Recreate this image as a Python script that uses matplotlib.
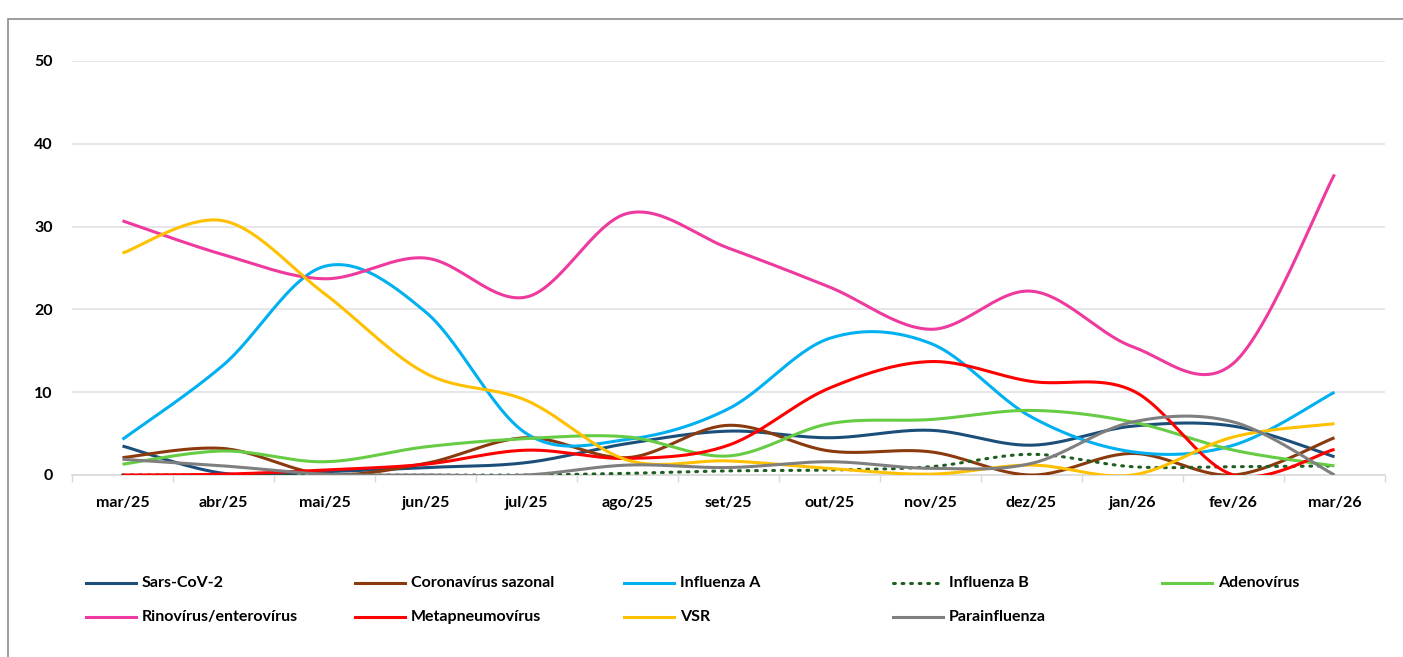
import numpy as np
import matplotlib.pyplot as plt
from matplotlib.lines import Line2D
from matplotlib.patches import Rectangle

####################################################################################################
meses = ['mar/25', 'abr/25', 'mai/25', 'jun/25', 'jul/25', 'ago/25', 'set/25',
         'out/25', 'nov/25', 'dez/25', 'jan/26', 'fev/26', 'mar/26']

sars_cov2 = [3.5, 0.2, 0.4, 0.9, 1.5, 3.8, 5.3, 4.5, 5.4, 3.6, 5.9, 5.9, 2.2]
corona_sazonal = [2.1, 3.2, 0.1, 1.4, 4.5, 2.1, 6.0, 2.9, 2.8, 0.0, 2.6, 0.0, 4.5]
influenza_a = [4.3, 13.3, 25.2, 19.7, 5.0, 4.3, 8.0, 16.5, 15.9, 7.0, 2.8, 3.6, 10.0]
influenza_b = [0.0, 0.0, 0.0, 0.0, 0.0, 0.2, 0.5, 0.6, 1.0, 2.5, 1.0, 1.0, 1.1]
adenovirus = [1.3, 2.9, 1.6, 3.4, 4.4, 4.6, 2.3, 6.2, 6.7, 7.8, 6.4, 3.0, 1.1]
rinovirus = [30.7, 26.6, 23.7, 26.2, 21.5, 31.6, 27.4, 22.7, 17.6, 22.2, 15.5, 13.5, 36.3]
metapneumo = [0.0, 0.1, 0.6, 1.3, 3.0, 2.0, 3.6, 10.5, 13.7, 11.3, 10.2, 0.0, 3.1]
vsr = [26.8, 30.7, 21.9, 12.3, 9.0, 1.8, 1.7, 0.8, 0.1, 1.2, 0.0, 4.6, 6.2]
parainfluenza = [1.9, 1.1, 0.1, 0.0, 0.0, 1.2, 0.9, 1.6, 0.8, 1.4, 6.4, 6.4, 0.0]

series = [
    ('Sars-CoV-2', sars_cov2, '#1B4F7A', '-'),
    ('Coronavírus sazonal', corona_sazonal, '#8B3A0E', '-'),
    ('Influenza A', influenza_a, '#00B0F0', '-'),
    ('Influenza B', influenza_b, '#1E5E20', ':'),
    ('Adenovírus', adenovirus, '#66CC44', '-'),
    ('Rinovírus/enterovírus', rinovirus, '#EE3A9E', '-'),
    ('Metapneumovírus', metapneumo, '#FF0000', '-'),
    ('VSR', vsr, '#FFC000', '-'),
    ('Parainfluenza', parainfluenza, '#7F7F7F', '-'),
]

####################################################################################################
def suaviza(y, n=30):
    # curva suave tipo Excel (Catmull-Rom via Bezier)
    y = np.asarray(y, dtype=float)
    x = np.arange(len(y), dtype=float)
    px = np.concatenate([[x[0]], x, [x[-1]]])
    py = np.concatenate([[y[0]], y, [y[-1]]])
    t = np.linspace(0, 1, n)
    xs, ys = [], []
    for i in range(1, len(px) - 2):
        p0x, p1x, p2x, p3x = px[i - 1], px[i], px[i + 1], px[i + 2]
        p0y, p1y, p2y, p3y = py[i - 1], py[i], py[i + 1], py[i + 2]
        c1x, c1y = p1x + (p2x - p0x) / 6, p1y + (p2y - p0y) / 6
        c2x, c2y = p2x - (p3x - p1x) / 6, p2y - (p3y - p1y) / 6
        bx = (1 - t)**3 * p1x + 3 * (1 - t)**2 * t * c1x + 3 * (1 - t) * t**2 * c2x + t**3 * p2x
        by = (1 - t)**3 * p1y + 3 * (1 - t)**2 * t * c1y + 3 * (1 - t) * t**2 * c2y + t**3 * p2y
        xs.append(bx)
        ys.append(by)
    return np.concatenate(xs), np.concatenate(ys)


plt.rcParams['font.family'] = ['Lato', 'DejaVu Sans']
plt.rcParams['font.weight'] = 'bold'

fig = plt.figure(figsize=(14.03, 6.57), dpi=100)
fig.add_artist(Rectangle((8 / 1403, -0.01), 1.5, 1 - 19 / 657 + 0.01, transform=fig.transFigure,
                         fill=False, edgecolor='#8C8C8C', linewidth=1.2))

ax = fig.add_axes([72 / 1403, 1 - 475 / 657, 1313 / 1403, 414 / 657])

for nome, vals, cor, estilo in series:
    xs, ys = suaviza(vals)
    if estilo == ':':
        ax.plot(xs, ys, color=cor, linewidth=2.2, linestyle=(0, (0.6, 2.2)),
                dash_capstyle='round', zorder=3)
    else:
        ax.plot(xs, ys, color=cor, linewidth=2.2, solid_capstyle='butt', zorder=3)

ax.set_xlim(-0.5, len(meses) - 0.5)
ax.set_ylim(0, 50)
ax.set_yticks(range(0, 51, 10))
ax.set_xticks(range(len(meses)))
ax.set_xticklabels(meses)
ax.set_xticks(np.arange(-0.5, len(meses), 1), minor=True)
ax.tick_params(axis='x', which='major', length=0, pad=15, labelsize=11.5)
ax.tick_params(axis='x', which='minor', length=5, color='#D9D9D9', width=1)
ax.tick_params(axis='y', length=0, pad=14, labelsize=11.5)
ax.grid(axis='y', color='#E0E0E6', linewidth=1.2)
ax.set_axisbelow(True)
for s in ['top', 'right', 'left']:
    ax.spines[s].set_visible(False)
ax.spines['bottom'].set_color('#D9D9D9')
ax.spines['bottom'].set_linewidth(1.2)

# legenda em duas linhas, colunas de largura igual
for i, (nome, vals, cor, estilo) in enumerate(series):
    lin, col = divmod(i, 5)
    x0 = (86 + col * 269) / 1403
    y0 = 1 - (583 + lin * 34) / 657
    if estilo == ':':
        fig.add_artist(Line2D([x0, x0 + 50 / 1403], [y0, y0], transform=fig.transFigure, color=cor,
                              linewidth=2.2, linestyle=(0, (0.6, 2.2)), dash_capstyle='round'))
    else:
        fig.add_artist(Line2D([x0, x0 + 50 / 1403], [y0, y0], transform=fig.transFigure, color=cor,
                              linewidth=2.2))
    fig.text(x0 + 56 / 1403, y0, nome, fontsize=11.5, fontweight='bold', va='center', ha='left')

fig.savefig('out.png', dpi=100)
